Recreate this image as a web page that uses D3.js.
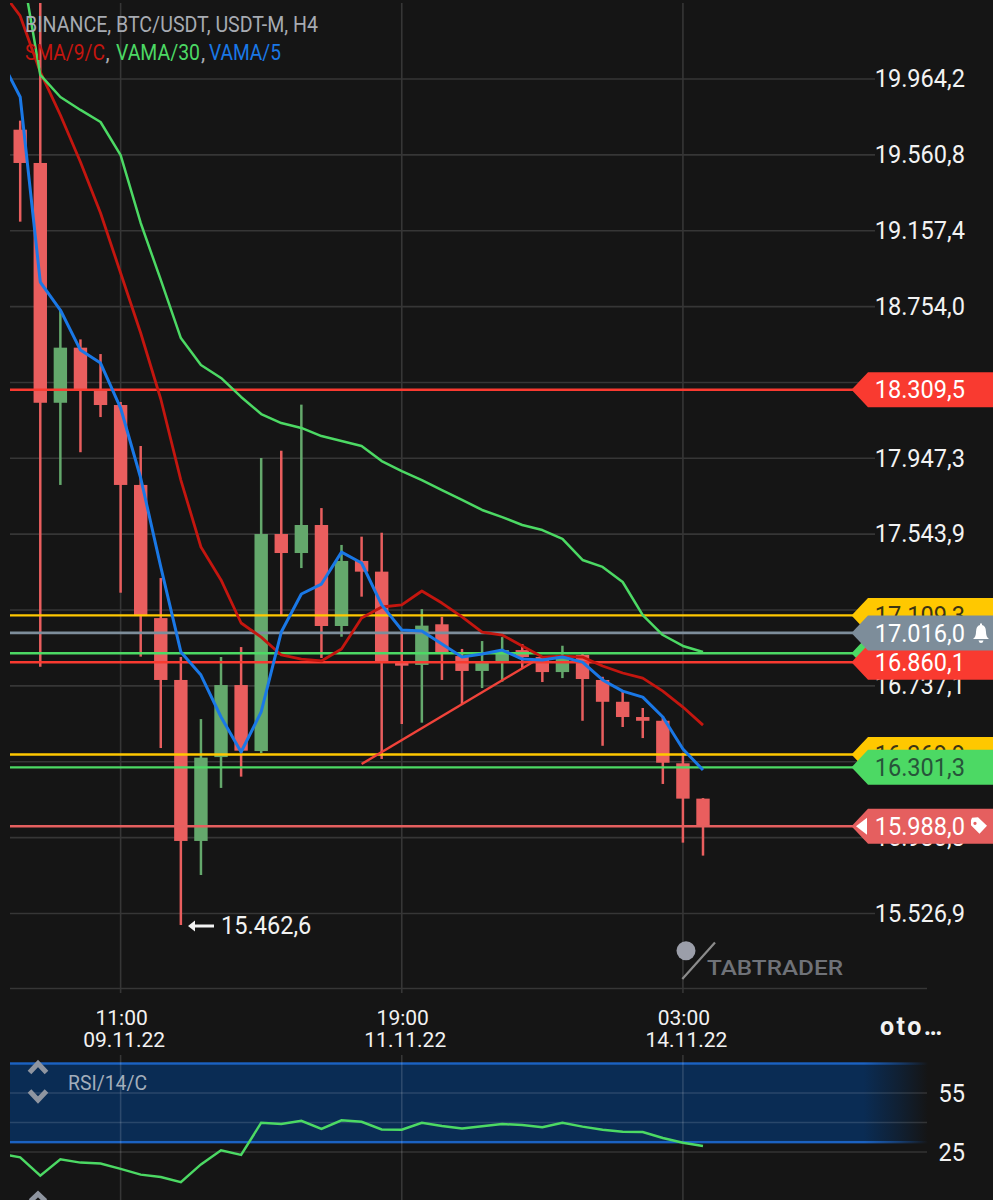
<!DOCTYPE html>
<html><head><meta charset="utf-8">
<script src="https://cdn.jsdelivr.net/npm/d3@7/dist/d3.min.js"></script>
<style>html,body{margin:0;padding:0;background:#151515}svg{display:block}text{font-family:Roboto,sans-serif}</style>
</head><body><svg id="c" width="993" height="1200"></svg>
<script>
// ---- values ----
const opens  = [19692,19515,18240,18533,18308,18228,17803,17095,16766,15910,16356,16739,16388,17542,17441,17590,17053,17399,17342,16861,16846,17062,16893,16814,16867,16925,16888,16808,16899,16766,16650,16569,16549,16323,16135];
const closes = [19515,18240,18533,18313,18228,17803,17106,16766,15910,16353,16739,16390,17542,17441,17590,17053,17399,17342,16861,16842,17055,16911,16814,16856,16925,16888,16808,16899,16771,16650,16569,16549,16326,16135,15989];
const highs  = [19740,20366,18733,18577,18499,18244,18010,17308,16888,16558,16888,16941,17946,17985,18230,17680,17484,17528,17549,17023,17143,17102,16931,16973,16994,16957,16893,16948,16909,16783,16704,16617,16574,16378,16138];
const lows   = [19203,16836,17803,17977,18164,17230,16890,16404,15462.6,15729,16192,16252,16378,17106,17361,16883,16996,17209,16346,16532,16539,16766,16638,16723,16757,16830,16755,16776,16549,16416,16516,16457,16213,15901,15832];
// indicator series start one bar before the first visible candle
const smaValues  = [20440,20297,19999,19770,19520,19249,18930,18611,18260,17829,17473,17298,17069,16994,16899,16877,16867,16931,17095,17154,17165,17239,17175,17101,17021,17005,16947,16888,16893,16888,16840,16803,16776,16707,16622,16526];
const vama5Values= [20073,19866,18882,18733,18520,18451,18212,17840,17367,16915,16792,16569,16383,16596,17021,17223,17276,17446,17388,17165,17032,17026,16957,16888,16904,16925,16877,16872,16888,16861,16766,16707,16675,16569,16399,16287];
const vama30Values=[20605,19983,19866,19797,19733,19557,19196,18893,18584,18441,18372,18271,18180,18132,18106,18063,18037,18010,17930,17877,17829,17776,17723,17670,17632,17590,17563,17516,17404,17367,17287,17111,17005,16947,16915];
const rsiValues  = [24.2,22.3,13.0,21.3,19.6,19.1,16.4,13.5,12.3,9.7,18.7,25.9,23.5,39.9,39.2,40.9,36.7,41.1,40.4,36.5,36.3,39.9,38.2,37.0,38.1,39.2,38.7,37.6,39.9,37.9,36.3,35.3,35.2,32.1,29.7,28.1];
const priceTicks = [19964.2,19560.8,19157.4,18754.0,18350.6,17947.3,17543.9,17140.5,16737.1,16333.7,15930.3,15526.9];
const timeTickIdx = [5,19,33];
const timeLabels  = ["11:00","19:00","03:00"];
const dateLabels  = ["09.11.22","11.11.22","14.11.22"];
const rsiTicks = [55,25];
const rsiGrid  = [55,40,25];
const rsiBand  = [70,30];
const lineLevels = [
  {v:18309.5,k:"red"},{v:17109.3,k:"yellow"},{v:17016.0,k:"grey"},{v:16908.0,k:"green"},
  {v:16860.1,k:"red"},{v:16369.9,k:"yellow"},{v:16301.3,k:"green"},{v:15988.0,k:"last"}];
const trendIdx = [17,25.7];
const trendPrice = [16319,16872];
const lowMark = {i:8,v:15462.6};
const headerTop = "BINANCE, BTC/USDT, USDT-M, H4";
const legendNames = ["SMA/9/C","VAMA/30","VAMA/5"];

// ---- styles ----
const col = {red:"#f93a30",yellow:"#ffc800",grey:"#7d8d9a",green:"#4cd964",last:"#e55f5f"};
const txtCol = {red:"#fff",yellow:"#3b3413",grey:"#fff",green:"#27553a",last:"#fff"};
const up="#64a86c", down="#e95e5e", gridC="#363636";
const SX=.925;

const svg=d3.select("#c");
const fmt=d3.formatLocale({decimal:",",thousands:".",grouping:[3]}).format(",.1f");
const x=d3.scaleLinear().domain([0,34]).range([20.2,703]);
const y=d3.scaleLinear().domain([15526.9,19964.2]).range([913,78.5]);
const r=d3.scaleLinear().domain([25,55]).range([1152,1093]);

const defs=svg.append("defs");
defs.append("clipPath").attr("id","plot").append("rect").attr("x",10).attr("y",3).attr("width",900).attr("height",985);
defs.append("clipPath").attr("id","rsi").append("rect").attr("x",10).attr("y",1055).attr("width",900).attr("height",145);
function bandGrad(id,c){
  const g=defs.append("linearGradient").attr("id",id).attr("x1",10).attr("x2",928).attr("y1",0).attr("y2",0).attr("gradientUnits","userSpaceOnUse");
  g.append("stop").attr("offset",.93).attr("stop-color",c).attr("stop-opacity",1);
  g.append("stop").attr("offset",.97).attr("stop-color",c).attr("stop-opacity",.45);
  g.append("stop").attr("offset",1).attr("stop-color",c).attr("stop-opacity",0);
}
bandGrad("bf","#0a2c54");bandGrad("bl","#1b62c2");

function label(g,tx,ty,t,o={}){
  return g.append("text").attr("transform",`translate(${tx},${ty}) scale(${o.sx??SX},1)`)
    .attr("text-anchor",o.anchor||"start").attr("font-size",o.size||25.5).attr("font-weight",o.weight||400)
    .attr("fill",o.fill||"#f2f2f2").text(t);
}

// grid
const gGrid=svg.append("g");
const gy=gGrid.append("g").attr("transform","translate(875,0)")
  .call(d3.axisLeft(y).tickValues(priceTicks).tickSize(865).tickFormat(""));
gy.select(".domain").remove();
gy.selectAll("line").attr("stroke",gridC).attr("stroke-width",1.6);
gGrid.selectAll(".vt").data(timeTickIdx).join("line").attr("class","vt")
  .attr("x1",d=>x(d)).attr("x2",d=>x(d)).attr("y1",3).attr("y2",993).attr("stroke",gridC).attr("stroke-width",1.6);
gGrid.append("line").attr("x1",10).attr("x2",927).attr("y1",988.5).attr("y2",988.5).attr("stroke",gridC).attr("stroke-width",1.6);

// RSI band (behind the rest of the lower panel)
const gR=svg.append("g");
gR.append("rect").attr("x",10).attr("width",918).attr("y",r(rsiBand[0])).attr("height",r(rsiBand[1])-r(rsiBand[0])).attr("fill","url(#bf)");
rsiBand.forEach(v=>gR.append("rect").attr("x",10).attr("width",918).attr("y",r(v)-1.2).attr("height",2.4).attr("fill","url(#bl)"));
gR.selectAll(".rg").data(rsiGrid).join("line").attr("class","rg").attr("x1",10).attr("x2",927)
  .attr("y1",d=>r(d)).attr("y2",d=>r(d)).attr("stroke","#fff").attr("stroke-opacity",.13).attr("stroke-width",1.6);
gR.selectAll(".vr").data(timeTickIdx).join("line").attr("class","vr")
  .attr("x1",d=>x(d)).attr("x2",d=>x(d)).attr("y1",1055).attr("y2",1200).attr("stroke","#fff").attr("stroke-opacity",.14).attr("stroke-width",1.6);

// tick labels (price tags cover some of them, as in the app)
priceTicks.forEach(v=>label(svg,965,y(v)+8.8,fmt(v),{anchor:"end"}));

// candles
const idx=d3.range(opens.length);
const gC=svg.append("g").attr("clip-path","url(#plot)");
gC.selectAll(".w").data(idx).join("line").attr("class","w")
  .attr("x1",i=>x(i)).attr("x2",i=>x(i)).attr("y1",i=>y(highs[i])).attr("y2",i=>y(lows[i]))
  .attr("stroke",i=>closes[i]>=opens[i]?up:down).attr("stroke-width",2.5);
gC.selectAll(".b").data(idx).join("rect").attr("class","b")
  .attr("x",i=>x(i)-6.7).attr("width",13.4)
  .attr("y",i=>y(Math.max(opens[i],closes[i])))
  .attr("height",i=>Math.max(2,Math.abs(y(opens[i])-y(closes[i]))))
  .attr("fill",i=>closes[i]>=opens[i]?up:down);

// horizontal price lines
svg.append("g").selectAll("line").data(lineLevels).join("line")
  .attr("x1",10).attr("x2",853).attr("y1",d=>y(d.v)).attr("y2",d=>y(d.v))
  .attr("stroke",d=>col[d.k]).attr("stroke-width",d=>d.k=="grey"?2.8:2.4);

// trend line
svg.append("line").attr("x1",x(trendIdx[0])).attr("y1",y(trendPrice[0])).attr("x2",x(trendIdx[1])).attr("y2",y(trendPrice[1]))
  .attr("stroke","#f0433a").attr("stroke-width",2.4);

// moving averages
const lineGen=(offset,sc)=>d3.line().x((d,i)=>x(i+offset)).y(d=>sc(d));
const gM=svg.append("g").attr("clip-path","url(#plot)").attr("fill","none").attr("stroke-linejoin","round");
gM.append("path").attr("d",lineGen(-1,y)(smaValues)).attr("stroke","#c4160f").attr("stroke-width",2.8);
gM.append("path").attr("d",lineGen(0,y)(vama30Values)).attr("stroke","#4cd964").attr("stroke-width",2.5);
gM.append("path").attr("d",lineGen(-1,y)(vama5Values)).attr("stroke","#1a78e6").attr("stroke-width",3);

// price tags
function tag(d,hasText=true){
  const c=y(d.v),h=17.5,g=svg.append("g");
  g.append("path").attr("d",`M851.5,${c}L868,${c-h}H993V${c+h}H868Z`).attr("fill",col[d.k]);
  if(hasText) label(g,965,c+8.8,fmt(d.v),{anchor:"end",fill:txtCol[d.k]});
  return g;
}
const L=lineLevels;
tag(L[1]);tag(L[5]);tag(L[3],false);tag(L[4]);tag(L[0]);
const gt=tag(L[2]);
tag(L[6]);
// bell
const by=y(L[2].v);
gt.append("path").attr("fill","#fff").attr("d",`M973,${by+6} q3,-2 3,-7 q0,-6 4,-7 v-1.5 h2 v1.5 q4,1 4,7 q0,5 3,7 Z M978.5,${by+7.5} h5 q-.5,2.5 -2.5,2.5 t-2.5,-2.5Z`);
const lt=tag(L[7]);
const ly=y(L[7].v);
lt.append("path").attr("fill","#fff").attr("d",`M856,${ly}L867,${ly-8.5}V${ly+8.5}Z`);
lt.append("path").attr("fill","#fff").attr("fill-rule","evenodd").attr("d",`M971,${ly-6} l1,-2.5 l6,-.5 l9,8.5 l-7.5,8 l-8.5,-8.5 Z M975,${ly-4.5} a1.6,1.6 0 1 0 .01,0Z`);

// low marker
const lowY=y(lowMark.v)+1;
const lm=svg.append("g");
lm.append("path").attr("d",`M188,${lowY}l7,-5.5v4h19v3h-19v4Z`).attr("fill","#f2f2f2");
label(lm,221,934,fmt(lowMark.v));

// header
const hd=svg.append("g").attr("font-size",21.5);
hd.append("text").attr("x",25).attr("y",32).attr("fill","#a7abb2")
  .attr("textLength",293).attr("lengthAdjust","spacingAndGlyphs").text(headerTop);
[[25,80,"#c4160f"],[116,84,"#4cd964"],[209,72,"#1a78e6"]].forEach(([px,w,c],i)=>{
  hd.append("text").attr("x",px).attr("y",60).attr("fill",c)
    .attr("textLength",w).attr("lengthAdjust","spacingAndGlyphs").text(legendNames[i]);
});
[105.5,201].forEach(px=>hd.append("text").attr("x",px).attr("y",60).attr("fill","#a7abb2").text(","));

// watermark
const wm=svg.append("g");
wm.append("circle").attr("cx",686).attr("cy",950.7).attr("r",9.5).attr("fill","#9b9ea9");
wm.append("line").attr("x1",715).attr("y1",942.5).attr("x2",682.3).attr("y2",979).attr("stroke","#8b8b8b").attr("stroke-width",2.2);
wm.append("text").attr("x",707).attr("y",975).attr("font-size",20).attr("font-weight",500).attr("fill","#6f7278")
  .attr("textLength",136).attr("lengthAdjust","spacingAndGlyphs").text("TABTRADER");

// time axis labels
timeTickIdx.forEach((d,i)=>{
  svg.append("text").attr("x",x(d)+1).attr("y",1025).attr("text-anchor","middle").attr("font-size",21).attr("fill","#f2f2f2").text(timeLabels[i]);
  svg.append("text").attr("x",x(d)+3.5).attr("y",1047).attr("text-anchor","middle").attr("font-size",21).attr("fill","#f2f2f2").text(dateLabels[i]);
});
svg.append("text").attr("x",880).attr("y",1035).attr("font-size",25).attr("font-weight",700).attr("letter-spacing",2.5).attr("fill","#f2f2f2").text("oto…");

// RSI line and labels
svg.append("g").attr("clip-path","url(#rsi)").append("path").attr("d",lineGen(-1,r)(rsiValues))
  .attr("fill","none").attr("stroke","#4cd964").attr("stroke-width",2.5);
rsiTicks.forEach(v=>label(svg,965,r(v)+9,String(v),{anchor:"end"}));
svg.append("text").attr("x",68).attr("y",1090).attr("font-size",21).attr("fill","#a3aebb")
  .attr("textLength",79).attr("lengthAdjust","spacingAndGlyphs").text("RSI/14/C");
const chev=svg.append("g").attr("fill","none").attr("stroke","#8f95a0").attr("stroke-width",5);
chev.append("path").attr("d","M29.5,1072.5L38,1063.5L46.5,1072.5");
chev.append("path").attr("d","M29.5,1091L38,1100L46.5,1091");
chev.append("path").attr("d","M30.5,1201L38,1194L45.5,1201");
</script></body></html>
